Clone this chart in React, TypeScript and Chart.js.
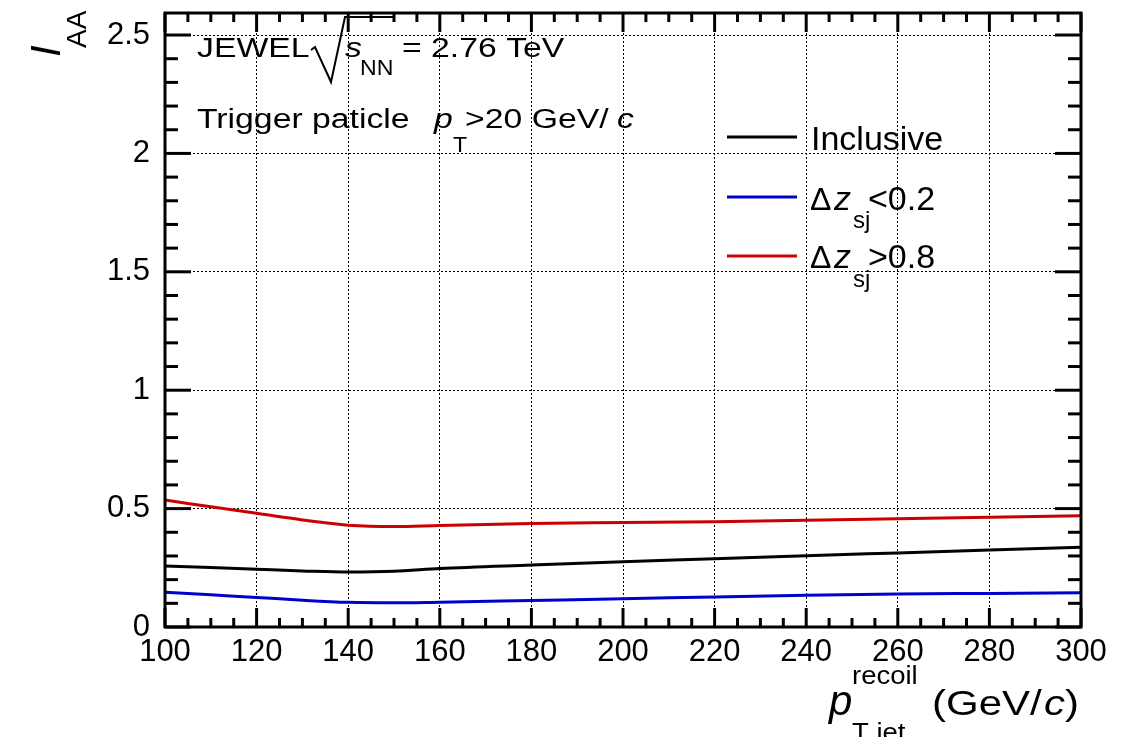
import { useEffect, useRef } from 'react';
import { Chart, registerables } from 'chart.js';

Chart.register(...registerables);

// ---- data ----
const xValues = [100, 110, 120, 130, 140, 150, 160, 180, 200, 220, 240, 260, 280, 300];
const inclusiveValues = [0.258, 0.251, 0.244, 0.237, 0.232, 0.235, 0.247, 0.262, 0.276, 0.288, 0.301, 0.313, 0.325, 0.337];
const dzLowValues = [0.147, 0.136, 0.125, 0.113, 0.104, 0.102, 0.105, 0.112, 0.119, 0.127, 0.134, 0.139, 0.142, 0.145];
const dzHighValues = [0.536, 0.508, 0.48, 0.452, 0.43, 0.424, 0.429, 0.437, 0.441, 0.445, 0.451, 0.457, 0.463, 0.47];

const xTickValues = [100, 120, 140, 160, 180, 200, 220, 240, 260, 280, 300];
const yTickValues = [0, 0.5, 1, 1.5, 2, 2.5];
const yTickLabels = ['0', '0.5', '1', '1.5', '2', '2.5'];
const xMinorStep = 5;
const yMinorStep = 0.1;
const X_MIN = 100;
const X_MAX = 300;
const Y_MIN = 0;
const Y_MAX = 2.593;

const seriesColors = ['#000000', '#0000cc', '#cc0000'];

const FONT = '"Liberation Sans", Arial, Helvetica, sans-serif';

function txt(
  ctx: CanvasRenderingContext2D,
  s: string,
  x: number,
  y: number,
  size: number,
  italic = false,
  sx = 1
) {
  ctx.save();
  ctx.translate(x, y);
  ctx.scale(sx, 1);
  ctx.font = `${italic ? 'italic ' : ''}${size}px ${FONT}`;
  ctx.fillStyle = '#000';
  ctx.textAlign = 'left';
  ctx.textBaseline = 'alphabetic';
  ctx.fillText(s, 0, 0);
  ctx.restore();
}

const rootPlugin = {
  id: 'rootStyle',
  afterDraw(chart: any) {
    const ctx: CanvasRenderingContext2D = chart.ctx;
    const a = chart.chartArea;
    const xs = chart.scales.x;
    const ys = chart.scales.y;
    ctx.save();
    ctx.strokeStyle = '#000';
    ctx.lineWidth = 3;
    ctx.lineCap = 'butt';
    const seg = (x1: number, y1: number, x2: number, y2: number) => {
      ctx.beginPath();
      ctx.moveTo(x1, y1);
      ctx.lineTo(x2, y2);
      ctx.stroke();
    };
    // x ticks (bottom and top, inside)
    const nx = Math.round((X_MAX - X_MIN) / xMinorStep);
    for (let i = 0; i <= nx; i++) {
      const v = X_MIN + i * xMinorStep;
      const px = xs.getPixelForValue(v);
      const major = xTickValues.some((t) => Math.abs(t - v) < 1e-6);
      const len = major ? 19 : 9;
      seg(px, a.bottom, px, a.bottom - len);
      seg(px, a.top, px, a.top + len);
    }
    // y ticks (left and right, inside)
    const ny = Math.floor((Y_MAX - Y_MIN) / yMinorStep + 1e-6);
    for (let i = 0; i <= ny; i++) {
      const v = Y_MIN + i * yMinorStep;
      const py = ys.getPixelForValue(v);
      const major = yTickValues.some((t) => Math.abs(t - v) < 1e-6);
      const len = major ? 26 : 13;
      seg(a.left, py, a.left + len, py);
      seg(a.right, py, a.right - len, py);
    }
    // frame
    ctx.strokeRect(a.left, a.top, a.right - a.left, a.bottom - a.top);

    // ---- top-left annotation ----
    const S = 27;
    const SX = 1.25;
    txt(ctx, 'JEWEL', 197, 57, S, false, SX);
    ctx.lineWidth = 2;
    ctx.lineJoin = 'miter';
    ctx.beginPath();
    ctx.moveTo(311, 50);
    ctx.lineTo(315, 47);
    ctx.lineTo(331, 82);
    ctx.lineTo(345, 17);
    ctx.lineTo(393, 17);
    ctx.stroke();
    txt(ctx, 's', 345, 57, S, true, SX);
    txt(ctx, 'NN', 360, 75, 22, false, 1.05);
    txt(ctx, '= 2.76 TeV', 402, 57, S, false, SX);

    txt(ctx, 'Trigger paticle', 197, 128, S, false, SX);
    txt(ctx, 'p', 434, 128, S, true, SX);
    txt(ctx, 'T', 453, 152, 22, false, 1.05);
    txt(ctx, '>20 GeV/', 465, 128, S, false, SX);
    txt(ctx, 'c', 617, 128, S, true, SX);

    // ---- legend ----
    const legendY = [137, 197, 256];
    ctx.lineWidth = 3;
    legendY.forEach((y, i) => {
      ctx.strokeStyle = seriesColors[i];
      seg(727, y, 797, y);
    });
    ctx.strokeStyle = '#000';
    txt(ctx, 'Inclusive', 811, 150, 34);
    txt(ctx, 'Δ', 810, 210, 32);
    txt(ctx, 'z', 834, 210, 34, true);
    txt(ctx, 'sj', 853, 228, 24);
    txt(ctx, '<0.2', 868, 210, 34);
    txt(ctx, 'Δ', 810, 268, 32);
    txt(ctx, 'z', 834, 268, 34, true);
    txt(ctx, 'sj', 853, 287, 24);
    txt(ctx, '>0.8', 868, 268, 34);

    // ---- x axis title ----
    txt(ctx, 'p', 829, 715, 42, true);
    txt(ctx, 'recoil', 852, 684, 25, false, 1.1);
    txt(ctx, 'T jet', 852, 741, 25, false, 1.1);
    txt(ctx, '(GeV/', 932, 715, 35, false, 1.2);
    txt(ctx, 'c', 1044, 715, 35, true, 1.2);
    txt(ctx, ')', 1065, 715, 35, false, 1.2);

    // ---- y axis title (rotated) ----
    ctx.save();
    ctx.translate(60, 57);
    ctx.rotate(-Math.PI / 2);
    txt(ctx, 'I', 0, 0, 42, true);
    txt(ctx, 'AA', 9, 26, 28);
    ctx.restore();

    ctx.restore();
  },
};

export default function App() {
  const canvasRef = useRef<HTMLCanvasElement | null>(null);

  useEffect(() => {
    document.body.style.margin = '0';
    const canvas = canvasRef.current;
    if (!canvas) return;
    const mk = (vals: number[]) => xValues.map((x, i) => ({ x, y: vals[i] }));
    const chart = new Chart(canvas, {
      type: 'line',
      data: {
        datasets: [
          { label: 'Inclusive', data: mk(inclusiveValues), borderColor: seriesColors[0] },
          { label: 'dz<0.2', data: mk(dzLowValues), borderColor: seriesColors[1] },
          { label: 'dz>0.8', data: mk(dzHighValues), borderColor: seriesColors[2] },
        ].map((d) => ({
          ...d,
          borderWidth: 3,
          pointRadius: 0,
          fill: false,
          tension: 0.4,
          cubicInterpolationMode: 'monotone' as const,
        })),
      },
      options: {
        responsive: false,
        animation: false,
        devicePixelRatio: 1,
        layout: { padding: { top: 13, right: 46, bottom: 0, left: 0 } },
        plugins: {
          legend: { display: false },
          tooltip: { enabled: false },
          title: { display: false },
        },
        scales: {
          x: {
            type: 'linear',
            min: X_MIN,
            max: X_MAX,
            afterBuildTicks: (s: any) => {
              s.ticks = xTickValues.map((v) => ({ value: v }));
            },
            afterFit: (s: any) => {
              s.height = 110;
              s.paddingLeft = 0;
              s.paddingRight = 0;
            },
            ticks: {
              autoSkip: false,
              maxRotation: 0,
              minRotation: 0,
              padding: 7,
              color: '#000',
              font: { family: FONT, size: 31 },
              callback: (v: any) => String(v),
            },
            grid: { color: '#000', lineWidth: 1, drawTicks: false },
            border: { display: false, dash: [2, 2] },
          },
          y: {
            type: 'linear',
            min: Y_MIN,
            max: Y_MAX,
            afterBuildTicks: (s: any) => {
              s.ticks = yTickValues.map((v) => ({ value: v }));
            },
            afterFit: (s: any) => {
              s.width = 165;
              s.paddingTop = 0;
              s.paddingBottom = 0;
            },
            ticks: {
              autoSkip: false,
              padding: 15,
              color: '#000',
              font: { family: FONT, size: 31 },
              callback: (v: any) => {
                const i = yTickValues.findIndex((t) => Math.abs(t - Number(v)) < 1e-6);
                return i >= 0 ? yTickLabels[i] : '';
              },
            },
            grid: { color: '#000', lineWidth: 1, drawTicks: false },
            border: { display: false, dash: [2, 2] },
          },
        },
      },
      plugins: [rootPlugin],
    });
    return () => chart.destroy();
  }, []);

  return (
    <div style={{ position: 'absolute', left: 0, top: 0, width: 1127, height: 737, background: '#fff' }}>
      <canvas ref={canvasRef} width={1127} height={737} style={{ display: 'block' }} />
    </div>
  );
}
